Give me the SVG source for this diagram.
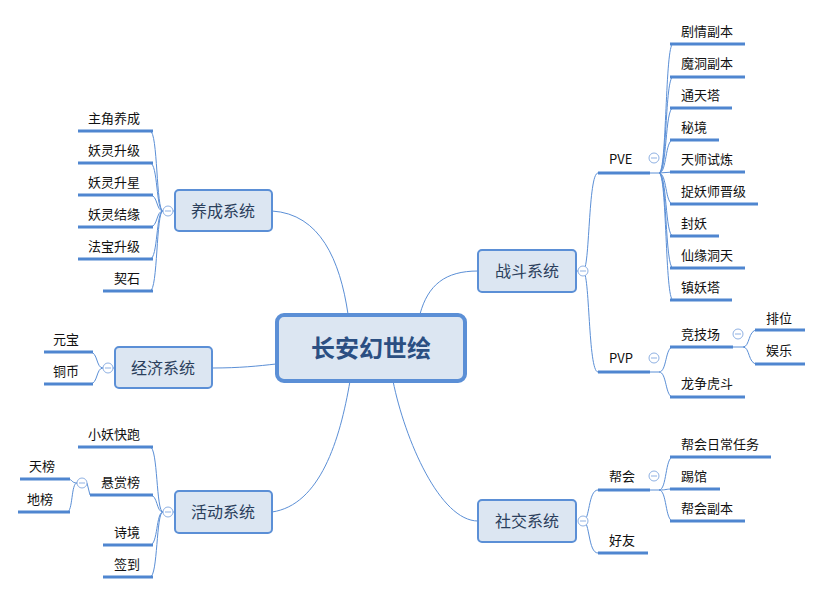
<svg xmlns="http://www.w3.org/2000/svg" width="823" height="594" viewBox="0 0 823 594">
<style>
text{font-family:"Microsoft YaHei","Noto Sans CJK SC",sans-serif;fill:#111}
.lf{font-size:13px}
.mn{font-size:16px;fill:#2b3f5c;text-anchor:middle}
.box{fill:#dce6f2;stroke:#5b8fd6;stroke-width:2}
.ul{stroke:#4f86d0;stroke-width:3}
.ln{fill:none;stroke:#5b8fd6;stroke-width:1}
.cc{fill:#fff;stroke:#8fb1e3;stroke-width:1}
.cm{stroke:#8fb1e3;stroke-width:1}
</style>
<rect width="823" height="594" fill="#fff"/>
<g id="connectors">
<path class="ln" d="M272,211 C320,214 340,260 348,314"/>
<path class="ln" d="M212,368 C240,368 258,366 276,364"/>
<path class="ln" d="M272,512 C320,505 340,440 350,381"/>
<path class="ln" d="M478,271 C445,271 428,285 420,314"/>
<path class="ln" d="M478,521 C440,521 405,440 393,381"/>
<!-- 养成 -->
<path class="ln" d="M163,211 C156,211 158,131 150,131 M163,211 C156,211 158,163 150,163 M163,211 C156,211 158,195 150,195 M163,211 C156,211 158,227 150,227 M163,211 C156,211 158,259 150,259 M163,211 C156,211 158,291 150,291 M163,211 L175,211"/>
<!-- 经济 -->
<path class="ln" d="M103,368 C96,368 98,352 90,352 M103,368 C96,368 98,384 90,384 M103,368 L115,368"/>
<!-- 活动 -->
<path class="ln" d="M163,512 C156,512 158,447 150,447 M163,512 C156,512 158,495 150,495 M163,512 C156,512 158,545 150,545 M163,512 C156,512 158,577 150,577 M163,512 L175,512"/>
<path class="ln" d="M77,483 C71,483 73,479 67,479 M77,483 C71,483 73,512 67,512 M87,483 L90,495"/>
<!-- 战斗 -->
<path class="ln" d="M583,271 C590,271 588,173 598,173 M583,271 C590,271 588,372 598,372 M576,271 L578,271"/>
<path class="ln" d="M659,173 C667,173 665,44 673,44 M659,173 C667,173 665,77 673,77 M659,173 C667,173 665,108 673,108 M659,173 C667,173 665,140 673,140 M659,173 L673,172 M659,173 C667,173 665,204 673,204 M659,173 C667,173 665,236 673,236 M659,173 C667,173 665,268 673,268 M659,173 C667,173 665,300 673,300 M650,173 L659,173"/>
<path class="ln" d="M659,372 C667,372 665,347 673,347 M659,372 C667,372 665,397 673,397 M650,372 L659,372"/>
<path class="ln" d="M743,347 C750,347 748,330 757,330 M743,347 C750,347 748,364 757,364 M733,347 L743,347"/>
<!-- 社交 -->
<path class="ln" d="M583,521 C590,521 588,490 598,490 M583,521 C590,521 588,553 598,553"/>
<path class="ln" d="M659,490 C667,490 665,457 673,457 M659,490 C667,490 665,489 673,489 M659,490 C667,490 665,521 673,521 M650,490 L659,490"/>
</g>
<g id="center"><rect x="277" y="315" width="188" height="66" rx="7" fill="#dce6f2" stroke="#5b8fd6" stroke-width="4"/><text x="371" y="357" font-size="24" font-weight="bold" text-anchor="middle" style="fill:#2b4f82">长安幻世绘</text></g>
<g id="n-yangcheng"><rect class="box" x="175" y="190" width="97" height="41" rx="4"/><text class="mn" x="223" y="217">养成系统</text><circle class="cc" cx="168" cy="211" r="5"/><line class="cm" x1="165" y1="211" x2="171" y2="211"/></g>
<g id="n-jingji"><rect class="box" x="115" y="347" width="97" height="41" rx="4"/><text class="mn" x="163" y="374">经济系统</text><circle class="cc" cx="108" cy="368" r="5"/><line class="cm" x1="105" y1="368" x2="111" y2="368"/></g>
<g id="n-huodong"><rect class="box" x="175" y="491" width="97" height="42" rx="4"/><text class="mn" x="223" y="518">活动系统</text><circle class="cc" cx="168" cy="512" r="5"/><line class="cm" x1="165" y1="512" x2="171" y2="512"/></g>
<g id="n-zhandou"><rect class="box" x="478" y="250" width="98" height="42" rx="4"/><text class="mn" x="527" y="277">战斗系统</text><circle class="cc" cx="583" cy="271" r="5"/><line class="cm" x1="580" y1="271" x2="586" y2="271"/></g>
<g id="n-shejiao"><rect class="box" x="478" y="500" width="98" height="42" rx="4"/><text class="mn" x="527" y="527">社交系统</text><circle class="cc" cx="583" cy="521" r="5"/><line class="cm" x1="580" y1="521" x2="586" y2="521"/></g>
<g id="leaves-left">
<line class="ul" x1="78" y1="131" x2="153" y2="131"/><text class="lf" x="88" y="123">主角养成</text>
<line class="ul" x1="78" y1="163" x2="153" y2="163"/><text class="lf" x="88" y="155">妖灵升级</text>
<line class="ul" x1="78" y1="195" x2="153" y2="195"/><text class="lf" x="88" y="187">妖灵升星</text>
<line class="ul" x1="78" y1="227" x2="153" y2="227"/><text class="lf" x="88" y="219">妖灵结缘</text>
<line class="ul" x1="78" y1="259" x2="153" y2="259"/><text class="lf" x="88" y="251">法宝升级</text>
<line class="ul" x1="103" y1="291" x2="153" y2="291"/><text class="lf" x="114" y="283">契石</text>
<line class="ul" x1="44" y1="352" x2="93" y2="352"/><text class="lf" x="53" y="344">元宝</text>
<line class="ul" x1="44" y1="384" x2="93" y2="384"/><text class="lf" x="53" y="376">铜币</text>
<line class="ul" x1="78" y1="447" x2="153" y2="447"/><text class="lf" x="88" y="439">小妖快跑</text>
<line class="ul" x1="90" y1="495" x2="153" y2="495"/><text class="lf" x="101" y="487">悬赏榜</text>
<circle class="cc" cx="82" cy="483" r="5"/><line class="cm" x1="79" y1="483" x2="85" y2="483"/>
<line class="ul" x1="20" y1="479" x2="70" y2="479"/><text class="lf" x="29" y="471">天榜</text>
<line class="ul" x1="18" y1="512" x2="70" y2="512"/><text class="lf" x="27" y="504">地榜</text>
<line class="ul" x1="103" y1="545" x2="153" y2="545"/><text class="lf" x="114" y="537">诗境</text>
<line class="ul" x1="103" y1="577" x2="153" y2="577"/><text class="lf" x="114" y="569">签到</text>
</g>
<g id="leaves-right">
<line class="ul" x1="598" y1="173" x2="650" y2="173"/><text class="lf" x="609" y="164">PVE</text>
<circle class="cc" cx="654" cy="158" r="5"/><line class="cm" x1="651" y1="158" x2="657" y2="158"/>
<line class="ul" x1="670" y1="44" x2="745" y2="44"/><text class="lf" x="681" y="36">剧情副本</text>
<line class="ul" x1="670" y1="77" x2="745" y2="77"/><text class="lf" x="681" y="68">魔洞副本</text>
<line class="ul" x1="670" y1="108" x2="732" y2="108"/><text class="lf" x="681" y="100">通天塔</text>
<line class="ul" x1="670" y1="140" x2="719" y2="140"/><text class="lf" x="681" y="132">秘境</text>
<line class="ul" x1="670" y1="172" x2="745" y2="172"/><text class="lf" x="681" y="164">天师试炼</text>
<line class="ul" x1="670" y1="204" x2="758" y2="204"/><text class="lf" x="681" y="196">捉妖师晋级</text>
<line class="ul" x1="670" y1="236" x2="719" y2="236"/><text class="lf" x="681" y="228">封妖</text>
<line class="ul" x1="670" y1="268" x2="745" y2="268"/><text class="lf" x="681" y="260">仙缘洞天</text>
<line class="ul" x1="670" y1="300" x2="732" y2="300"/><text class="lf" x="681" y="292">镇妖塔</text>
<line class="ul" x1="598" y1="372" x2="650" y2="372"/><text class="lf" x="609" y="363">PVP</text>
<circle class="cc" cx="654" cy="358" r="5"/><line class="cm" x1="651" y1="358" x2="657" y2="358"/>
<line class="ul" x1="670" y1="347" x2="733" y2="347"/><text class="lf" x="681" y="339">竞技场</text>
<circle class="cc" cx="738" cy="334" r="5"/><line class="cm" x1="735" y1="334" x2="741" y2="334"/>
<line class="ul" x1="755" y1="330" x2="805" y2="330"/><text class="lf" x="766" y="323">排位</text>
<line class="ul" x1="755" y1="364" x2="805" y2="364"/><text class="lf" x="766" y="355">娱乐</text>
<line class="ul" x1="670" y1="397" x2="745" y2="397"/><text class="lf" x="681" y="388">龙争虎斗</text>
<line class="ul" x1="598" y1="490" x2="650" y2="490"/><text class="lf" x="609" y="481">帮会</text>
<circle class="cc" cx="654" cy="476" r="5"/><line class="cm" x1="651" y1="476" x2="657" y2="476"/>
<line class="ul" x1="670" y1="457" x2="771" y2="457"/><text class="lf" x="681" y="449">帮会日常任务</text>
<line class="ul" x1="670" y1="489" x2="720" y2="489"/><text class="lf" x="681" y="481">踢馆</text>
<line class="ul" x1="670" y1="521" x2="745" y2="521"/><text class="lf" x="681" y="513">帮会副本</text>
<line class="ul" x1="598" y1="553" x2="648" y2="553"/><text class="lf" x="609" y="545">好友</text>
</g>
</svg>
